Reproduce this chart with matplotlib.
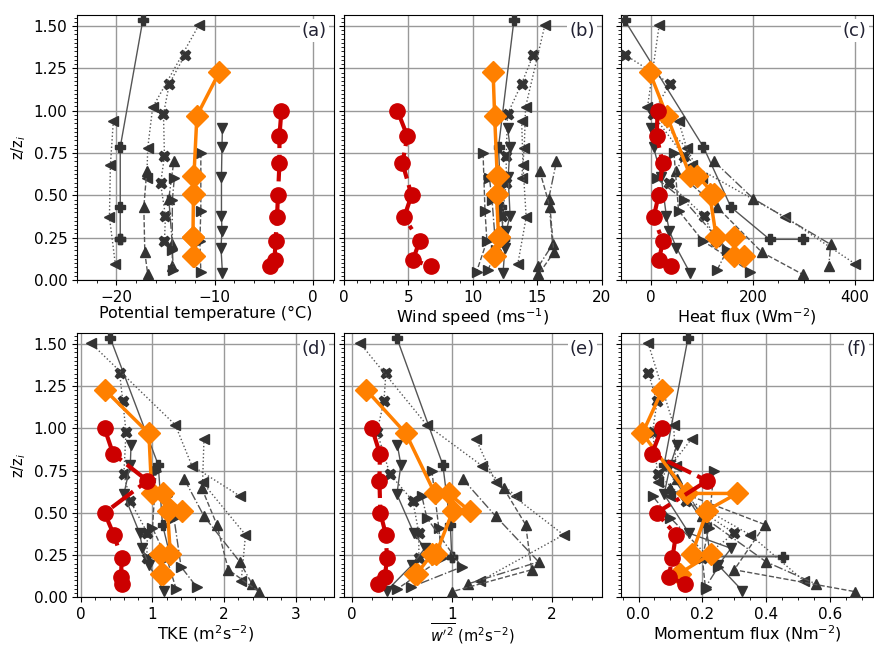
import matplotlib
matplotlib.use('Agg')
import matplotlib.pyplot as plt
from matplotlib.ticker import AutoMinorLocator, MultipleLocator, FormatStrFormatter

# ---- normalised heights z/zi for each profile ----
z_red = [1.0, 0.85, 0.69, 0.5, 0.37, 0.23, 0.12, 0.08]
z_orange = [1.23, 0.97, 0.615, 0.615, 0.51, 0.51, 0.255, 0.255, 0.14, 0.14]
z_plus = [1.535, 0.785, 0.43, 0.24, 0.24]
z_cross = [1.33, 1.16, 0.98, 0.73, 0.57, 0.38, 0.23]
z_left1 = [1.505, 1.02, 0.78, 0.6]
z_left2 = [0.94, 0.68, 0.37, 0.095]
z_up1 = [0.70, 0.48, 0.21, 0.08]
z_up2 = [0.645, 0.43, 0.163, 0.033]
z_down = [0.90, 0.785, 0.61, 0.38, 0.29, 0.19, 0.04]
z_right1 = [0.75, 0.41, 0.23, 0.05]
z_right2 = [0.60, 0.47, 0.18, 0.06]

# ---- panel (a): potential temperature (°C) ----
theta = dict(
    red=[-3.2, -3.4, -3.4, -3.55, -3.65, -3.8, -3.9, -4.4],
    orange=[-9.5, -11.8, -12.1, -12.15, -12.1, -12.15, -12.2, -12.15, -12.1, -12.15],
    plus=[-17.3, -19.6, -19.6, -19.6, -19.6],
    cross=[-13.0, -14.6, -15.2, -15.1, -15.5, -15.0, -15.1],
    left1=[-11.6, -16.3, -16.8, -16.9],
    left2=[-20.3, -20.6, -20.7, -20.1],
    up1=[-14.15, -14.66, -14.3, -14.3],
    up2=[-16.9, -17.2, -17.1, -16.8],
    down=[-9.2, -9.25, -9.3, -9.3, -9.25, -9.35, -9.2],
    right1=[-11.4, -11.4, -11.5, -11.4],
    right2=[-14.1, -14.3, -14.3, -14.2],
)
# ---- panel (b): wind speed (m/s) ----
wind = dict(
    red=[4.15, 4.92, 4.54, 5.25, 4.66, 5.87, 5.36, 6.72],
    orange=[11.58, 11.7, 11.9, 11.95, 11.9, 11.85, 12.0, 12.05, 11.65, 11.7],
    plus=[13.2, 12.0, 12.2, 12.4, 12.4],
    cross=[14.7, 13.8, 12.7, 12.6, 12.6, 12.3, 12.4],
    left1=[15.6, 14.1, 14.0, 13.8],
    left2=[13.8, 13.9, 14.15, 13.5],
    up1=[16.5, 15.9, 16.2, 15.1],
    up2=[15.2, 16.0, 16.3, 15.1],
    down=[12.7, 12.9, 12.75, 12.9, 12.6, 12.5, 12.35],
    right1=[10.8, 10.95, 11.1, 10.3],
    right2=[11.3, 11.5, 11.8, 11.2],
)
# ---- panel (c): heat flux (W/m2) ----
heat = dict(
    red=[13, 11, 23, 15, 5, 23, 16, 39],
    orange=[-3, 31, 77, 91, 123, 115, 128, 163, 163, 182],
    plus=[-52, 103, 157, 233, 298],
    cross=[-51, 37, 3, 65, 35, 104, 128],
    left1=[16, -7, 70, 100],
    left2=[54, 80, 264, 401],
    up1=[124, 201, 353, 349],
    up2=[49, 130, 218, 298],
    down=[0, 5, 20, 30, 36, 50, 77],
    right1=[45, 54, 102, 195],
    right2=[11, 65, 150, 130],
)
# ---- panel (d): TKE (m2/s2) ----
tke = dict(
    red=[0.33, 0.45, 0.93, 0.33, 0.46, 0.57, 0.56, 0.57],
    orange=[0.33, 0.95, 0.99, 1.15, 1.41, 1.21, 1.25, 1.10, 1.14, 1.12],
    plus=[0.41, 1.08, 1.14, 1.25, 1.25],
    cross=[0.54, 0.585, 0.63, 0.60, 0.69, 0.93, 0.92],
    left1=[0.14, 1.32, 1.55, 2.22],
    left2=[1.72, 1.70, 2.3, 2.24],
    up1=[1.445, 1.72, 2.22, 2.39],
    up2=[1.69, 1.9, 2.06, 2.49],
    down=[0.70, 0.69, 0.60, 0.82, 0.86, 0.95, 1.16],
    right1=[1.05, 1.0, 1.2, 1.33],
    right2=[1.2, 1.3, 1.4, 1.62],
)
# ---- panel (e): vertical velocity variance (m2/s2) ----
wvar = dict(
    red=[0.2, 0.28, 0.275, 0.284, 0.34, 0.35, 0.33, 0.26],
    orange=[0.14, 0.54, 0.83, 0.97, 1.18, 1.01, 0.84, 0.80, 0.65, 0.63],
    plus=[0.45, 0.91, 0.985, 1.0, 1.0],
    cross=[0.34, 0.32, 0.25, 0.38, 0.61, 0.67, 0.67],
    left1=[0.08, 0.75, 1.30, 1.64],
    left2=[1.24, 1.44, 2.12, 1.28],
    up1=[1.11, 1.44, 1.87, 1.165],
    up2=[1.52, 1.74, 1.80, 1.0],
    down=[0.455, 0.49, 0.45, 0.62, 0.73, 0.6, 0.35],
    right1=[0.8, 0.87, 0.9, 0.455],
    right2=[0.7, 0.75, 1.1, 0.59],
)
# ---- panel (f): momentum flux (N/m2) ----
mom = dict(
    red=[0.073, 0.042, 0.215, 0.057, 0.117, 0.106, 0.094, 0.146],
    orange=[0.075, 0.012, 0.153, 0.309, 0.21, 0.215, 0.167, 0.226, 0.127, 0.13],
    plus=[0.155, 0.08, 0.21, 0.226, 0.454],
    cross=[0.03, 0.058, 0.044, 0.06, 0.15, 0.30, 0.2],
    left1=[0.03, 0.11, 0.117, 0.10],
    left2=[0.167, 0.06, 0.35, 0.52],
    up1=[0.12, 0.2, 0.40, 0.555],
    up2=[0.1, 0.397, 0.30, 0.68],
    down=[0.12, 0.1, 0.08, 0.158, 0.29, 0.25, 0.325],
    right1=[0.236, 0.22, 0.2, 0.21],
    right2=[0.044, 0.1, 0.25, 0.21],
)

z_levels = dict(plus=z_plus, cross=z_cross, left1=z_left1, left2=z_left2,
                up1=z_up1, up2=z_up2, down=z_down, right1=z_right1, right2=z_right2)
gray_style = dict(plus=('P', '-'), cross=('X', ':'), left1=('<', ':'), left2=('<', ':'),
                  up1=('^', '-.'), up2=('^', '--'), down=('v', '-'),
                  right1=('>', '--'), right2=('>', '-.'))

panels = [
    (theta, 'Potential temperature (°C)', (-24, 2.1), [-20, -10, 0], '(a)'),
    (wind, 'Wind speed (ms$^{-1}$)', (0, 20), [0, 5, 10, 15, 20], '(b)'),
    (heat, 'Heat flux (Wm$^{-2}$)', (-59, 436), [0, 200, 400], '(c)'),
    (tke, 'TKE (m$^2$s$^{-2}$)', (-0.055, 3.53), [0, 1, 2, 3], '(d)'),
    (wvar, r"$\overline{w'^2}$ (m$^2$s$^{-2}$)", (-0.08, 2.5), [0, 1, 2], '(e)'),
    (mom, 'Momentum flux (Nm$^{-2}$)', (-0.055, 0.735), [0.0, 0.2, 0.4, 0.6], '(f)'),
]

W, H = 874, 646
fig = plt.figure(figsize=(W / 100, H / 100), dpi=100)
cols = [(77, 333.5), (344, 601.5), (621, 873)]
rows = [(15, 280), (333, 597.3)]

for i, (data, xlabel, xlim, xticks, tag) in enumerate(panels):
    r, c = divmod(i, 3)
    x0, x1 = cols[c]
    y0, y1 = rows[r]
    ax = fig.add_axes([x0 / W, 1 - y1 / H, (x1 - x0) / W, (y1 - y0) / H])
    ax.set_axisbelow(True)
    ax.grid(True, which='major', color='#999999', lw=1.0)

    for key, (mk, ls) in gray_style.items():
        ax.plot(data[key], z_levels[key], ls=ls, color='#555555', lw=1.0,
                marker=mk, ms=7.5 if mk in 'PX' else 7, mfc='#333333', mec='#333333',
                zorder=3)
    ax.plot(data['orange'], z_orange, '-', color='#ff8000', lw=2.5, marker='D',
            ms=11, mfc='#ff8000', mec='#ff8000', zorder=4)
    ax.plot(data['red'], z_red, '-.', color='#cc0000', lw=3, marker='o',
            ms=11, mfc='#cc0000', mec='#cc0000', zorder=5)

    ax.set_xlim(*xlim)
    ax.set_ylim(0, 1.565)
    ax.set_xticks(xticks)
    ax.set_yticks([0, 0.25, 0.5, 0.75, 1.0, 1.25, 1.5])
    ax.yaxis.set_minor_locator(MultipleLocator(0.025))
    ax.xaxis.set_minor_locator(AutoMinorLocator())
    ax.tick_params(labelsize=11)
    if i == 4:
        ax.set_xlabel(xlabel, fontsize=10.5, labelpad=0)
    else:
        ax.set_xlabel(xlabel, fontsize=11.5, labelpad=1)
    if c == 0:
        ax.set_ylabel('z/z$_i$', fontsize=10.5)
        ax.yaxis.set_major_formatter(FormatStrFormatter('%.2f'))
    else:
        ax.set_yticklabels([])
    if i == 5:
        ax.xaxis.set_major_formatter(FormatStrFormatter('%.1f'))
    ax.text(0.975, 0.975, tag, transform=ax.transAxes, ha='right', va='top',
            fontsize=13, color='#222233', zorder=10,
            bbox=dict(facecolor='white', edgecolor='none', pad=1.5))

fig.savefig('out.png', dpi=100)
